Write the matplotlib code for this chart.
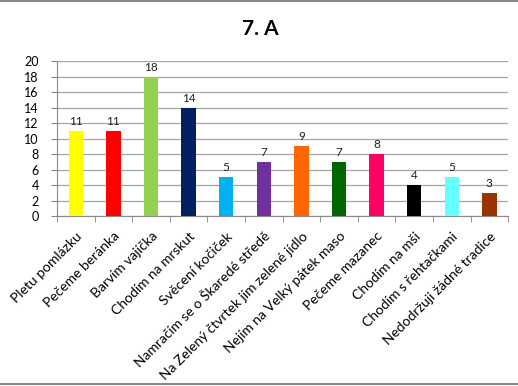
import matplotlib
matplotlib.use("Agg")
import matplotlib.pyplot as plt
from matplotlib.lines import Line2D

categories = ["Pletu pomlázku", "Pečeme beránka", "Barvím vajíčka", "Chodím na mrskut",
              "Svěcení kočiček", "Namračím se o Škaredé středě", "Na Zelený čtvrtek jím zelené jídlo",
              "Nejím na Velký pátek maso", "Pečeme mazanec", "Chodím na mši",
              "Chodím s řehtačkami", "Nedodržuji žádné tradice"]
values = [11, 11, 18, 14, 5, 7, 9, 7, 8, 4, 5, 3]
colors = ["#FFFF00", "#FF0000", "#92D050", "#002060", "#00B0F0", "#7030A0",
          "#FF6600", "#006600", "#FF0066", "#000000", "#66FFFF", "#993300"]
yticks = list(range(0, 21, 2))
title = "7. A"

plt.rcParams['font.family'] = ['Lato', 'DejaVu Sans']

fig = plt.figure(figsize=(5.18, 3.86), dpi=100)
ax = fig.add_axes([0.110, 0.440, 0.871, 0.402])

x = list(range(len(categories)))
ax.bar(x, values, width=0.38, color=colors, zorder=3)
for xi, v in zip(x, values):
    ax.text(xi, v + 0.5, str(v), ha='center', va='bottom', fontsize=8.5, color='#222222', zorder=4)

ax.set_xlim(-0.5, len(categories) - 0.5)
ax.set_ylim(0, 20)
ax.set_yticks(yticks)
ax.set_yticklabels([str(t) for t in yticks], fontsize=9)
ax.yaxis.grid(True, color='#A6A6A6', linewidth=0.9, zorder=0)
ax.tick_params(axis='y', length=4, color='#888888', pad=9)

ax.set_xticks(x)
ax.set_xticklabels(categories, rotation=45, ha='right', rotation_mode='anchor', fontsize=10)
ax.tick_params(axis='x', length=0, pad=10)
ax.set_xticks([i - 0.5 for i in range(len(categories) + 1)], minor=True)
ax.tick_params(axis='x', which='minor', length=4, color='#888888')

for s in ['top', 'right']:
    ax.spines[s].set_visible(False)
for s in ['left', 'bottom']:
    ax.spines[s].set_color('#888888')

fig.text(0.502, 0.925, title, ha='center', va='center', fontsize=15, fontweight='bold')

fig.add_artist(Line2D([0, 1], [0.998, 0.998], transform=fig.transFigure, color='#888888', linewidth=1.5))
fig.add_artist(Line2D([0, 1], [0.004, 0.004], transform=fig.transFigure, color='#888888', linewidth=1.5))

fig.savefig("out.png", dpi=100)
